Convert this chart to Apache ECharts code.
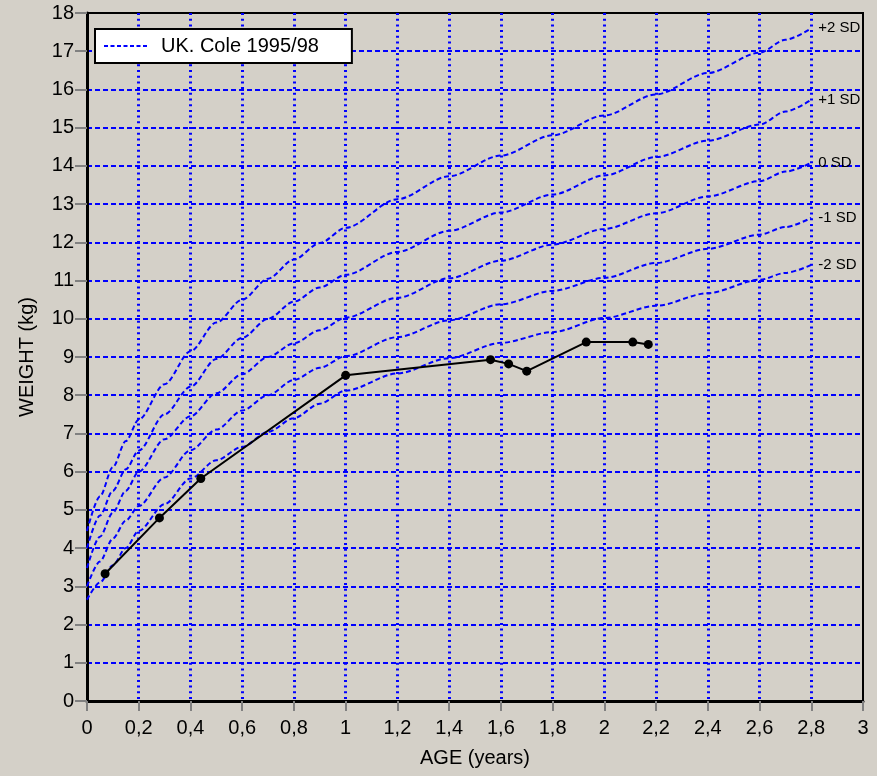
<!DOCTYPE html>
<html>
<head>
<meta charset="utf-8">
<style>
  html, body { margin: 0; padding: 0; background: #D4D0C8; }
  #chart { width: 877px; height: 776px; }
</style>
<script src="https://cdn.jsdelivr.net/npm/echarts@6/dist/echarts.min.js"></script>
</head>
<body>
<div id="chart"></div>
<script>
// Reference ages (years) for the UK Cole 1995/98 curves
const refAges   = [0, 0.05, 0.1, 0.15, 0.2, 0.3, 0.4, 0.5, 0.6, 0.7, 0.8, 0.9, 1.0, 1.2, 1.4, 1.6, 1.8, 2.0, 2.2, 2.4, 2.6, 2.7, 2.8];
const sdPlus2   = [4.45, 5.35, 6.12, 6.8, 7.36, 8.29, 9.15, 9.9, 10.5, 11.05, 11.55, 11.98, 12.38, 13.13, 13.73, 14.27, 14.8, 15.32, 15.87, 16.43, 16.96, 17.3, 17.6];
const sdPlus1   = [4.0, 4.85, 5.5, 6.06, 6.55, 7.5, 8.22, 8.95, 9.5, 10.0, 10.45, 10.82, 11.15, 11.75, 12.3, 12.78, 13.25, 13.75, 14.23, 14.66, 15.08, 15.42, 15.73];
const sd0       = [3.48, 4.3, 4.93, 5.5, 6.0, 6.85, 7.45, 8.05, 8.55, 9.0, 9.36, 9.7, 10.03, 10.55, 11.06, 11.52, 11.94, 12.35, 12.76, 13.2, 13.6, 13.85, 14.08];
const sdMinus1  = [3.0, 3.65, 4.25, 4.72, 5.1, 5.85, 6.56, 7.1, 7.6, 8.0, 8.4, 8.72, 9.02, 9.52, 9.96, 10.38, 10.73, 11.07, 11.46, 11.83, 12.2, 12.4, 12.64];
const sdMinus2  = [2.65, 3.1, 3.55, 4.0, 4.45, 5.15, 5.82, 6.3, 6.65, 7.04, 7.4, 7.78, 8.12, 8.57, 8.97, 9.37, 9.65, 10.02, 10.34, 10.67, 11.02, 11.2, 11.41];
const sdLabels  = ['+2 SD', '+1 SD', '0 SD', '-1 SD', '-2 SD'];

// Patient measurements
const patientAges    = [0.07, 0.28, 0.44, 1.0, 1.56, 1.63, 1.70, 1.93, 2.11, 2.17];
const patientWeights = [3.33, 4.79, 5.82, 8.52, 8.93, 8.82, 8.63, 9.39, 9.39, 9.33];

// Axis ticks
const xTicks = { min: 0, max: 3, step: 0.2 };
const yTicks = { min: 0, max: 18, step: 1 };

const legendName = 'UK. Cole 1995/98';
const FONT = "'Liberation Sans', Arial, sans-serif";

const sdSets = [sdPlus2, sdPlus1, sd0, sdMinus1, sdMinus2];

const sdSeries = sdSets.map((vals, i) => ({
  name: legendName,
  type: 'line',
  data: refAges.map((a, j) => [a, vals[j]]),
  symbol: 'none',
  smooth: 0.3,
  smoothMonotone: 'x',
  lineStyle: { color: '#0000FF', width: 2, type: [5, 3] },
  itemStyle: { color: '#0000FF' },
  endLabel: {
    show: true,
    formatter: sdLabels[i],
    color: '#000',
    fontFamily: FONT,
    fontSize: 15,
    distance: 7
  },
  z: 3,
  silent: true
}));

const chart = echarts.init(document.getElementById('chart'), null, { renderer: 'canvas' });

chart.setOption({
  backgroundColor: '#D4D0C8',
  animation: false,
  textStyle: { fontFamily: FONT },
  grid: {
    left: 87, right: 14, top: 13, bottom: 75,
    show: true, borderColor: '#000', borderWidth: 2, backgroundColor: 'transparent'
  },
  legend: {
    data: [legendName],
    left: 95, top: 29,
    padding: [7, 33, 7, 8],
    itemWidth: 45, itemHeight: 14,
    backgroundColor: '#FFFFFF',
    borderColor: '#000', borderWidth: 2, borderRadius: 0,
    itemStyle: { opacity: 0 },
    lineStyle: { type: [4, 2.5], width: 2, color: '#0000FF' },
    textStyle: { fontSize: 20, color: '#000', fontFamily: FONT, padding: [0, 0, 0, 7] },
    selectedMode: false
  },
  xAxis: {
    type: 'value',
    min: xTicks.min, max: xTicks.max, interval: xTicks.step,
    name: 'AGE (years)', nameLocation: 'middle', nameGap: 47,
    nameTextStyle: { fontSize: 20, color: '#000', fontFamily: FONT },
    axisLine: { show: true, onZero: false, lineStyle: { color: '#000', width: 3 } },
    axisTick: { show: true, length: 10, lineStyle: { color: '#808080', width: 2 } },
    axisLabel: {
      fontSize: 20, color: '#000', margin: 17, fontFamily: FONT,
      formatter: v => String(+(+v).toFixed(1)).replace('.', ',')
    },
    splitLine: {
      show: true, showMinLine: false, showMaxLine: false,
      lineStyle: { color: '#0000FF', width: 3, type: [2, 3.7] }
    }
  },
  yAxis: {
    type: 'value',
    min: yTicks.min, max: yTicks.max, interval: yTicks.step,
    name: 'WEIGHT (kg)', nameLocation: 'middle', nameGap: 50,
    nameTextStyle: { fontSize: 20, color: '#000', fontFamily: FONT },
    axisLine: { show: true, onZero: false, lineStyle: { color: '#000', width: 3 } },
    axisTick: { show: true, length: 12, lineStyle: { color: '#808080', width: 2 } },
    axisLabel: { fontSize: 20, color: '#000', margin: 13, fontFamily: FONT },
    splitLine: {
      show: true, showMinLine: false, showMaxLine: false,
      lineStyle: { color: '#0000FF', width: 2, type: [5, 3] }
    }
  },
  series: sdSeries.concat([{
    name: 'Patient',
    type: 'line',
    data: patientAges.map((a, j) => [a, patientWeights[j]]),
    symbol: 'circle',
    symbolSize: 9,
    lineStyle: { color: '#000', width: 2 },
    itemStyle: { color: '#000' },
    z: 5,
    silent: true
  }])
});
</script>
</body>
</html>
